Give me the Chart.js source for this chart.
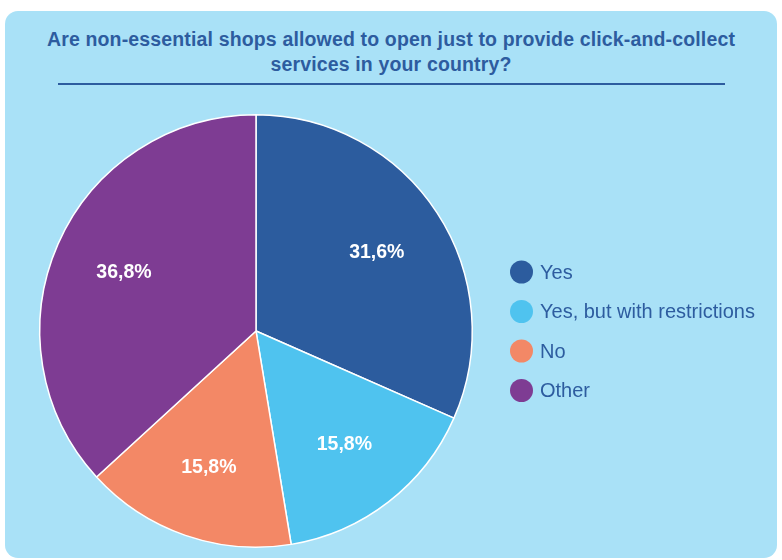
<!DOCTYPE html>
<html>
<head>
<meta charset="utf-8">
<script src="https://cdn.jsdelivr.net/npm/chart.js@4"></script>
<style>
  html, body { margin: 0; padding: 0; background: #ffffff; }
  body { width: 782px; height: 560px; position: relative; overflow: hidden; font-family: "Liberation Sans", Arial, sans-serif; }
  #card { position: absolute; left: 5px; top: 11px; width: 772px; height: 547px; background: #a9e1f7; border-radius: 13px; }
  #title { position: absolute; left: 5px; top: 27px; width: 772px; text-align: center; color: #2d5c9f; font-weight: bold; font-size: 19.5px; letter-spacing: 0.15px; line-height: 25px; }
  #rule { position: absolute; left: 58px; top: 83px; width: 667px; height: 2px; background: #2d5c9f; }
  #wrap { position: absolute; left: 0; top: 0; width: 782px; height: 560px; }
</style>
</head>
<body>
<div id="card"></div>
<div id="title">Are non-essential shops allowed to open just to provide click-and-collect<br>services in your country?</div>
<div id="rule"></div>
<div id="wrap"><canvas id="c" width="782" height="560"></canvas></div>
<script>
const categories = ["Yes", "Yes, but with restrictions", "No", "Other"];
const values = [31.6, 15.8, 15.8, 36.8];
const valueLabels = ["31,6%", "15,8%", "15,8%", "36,8%"];
const colors = ["#2c5c9e", "#4fc3ef", "#f38866", "#7e3c93"];

const labelPlugin = {
  id: "sliceLabels",
  afterDatasetsDraw(chart) {
    const ctx = chart.ctx;
    const meta = chart.getDatasetMeta(0);
    ctx.save();
    ctx.fillStyle = "#ffffff";
    ctx.font = "bold 19.5px 'Liberation Sans', Arial, sans-serif";
    ctx.textAlign = "center";
    ctx.textBaseline = "middle";
    meta.data.forEach((arc, i) => {
      const p = arc.getProps(["x", "y", "startAngle", "endAngle", "outerRadius"], true);
      const mid = (p.startAngle + p.endAngle) / 2;
      const r = p.outerRadius * 0.667;
      ctx.fillText(valueLabels[i], p.x + Math.cos(mid) * r, p.y + Math.sin(mid) * r);
    });
    ctx.restore();
  }
};

const legendPlugin = {
  id: "sideLegend",
  afterDraw(chart) {
    const ctx = chart.ctx;
    ctx.save();
    ctx.font = "20px 'Liberation Sans', Arial, sans-serif";
    ctx.textBaseline = "middle";
    ctx.textAlign = "left";
    categories.forEach((c, i) => {
      const y = 272 + i * 39.5;
      ctx.beginPath();
      ctx.arc(521.5, y, 11.5, 0, Math.PI * 2);
      ctx.fillStyle = colors[i];
      ctx.fill();
      ctx.fillStyle = "#2d5c9f";
      ctx.fillText(c, 540, y + 1);
    });
    ctx.restore();
  }
};

new Chart(document.getElementById("c"), {
  type: "pie",
  data: {
    labels: categories,
    datasets: [{
      data: values,
      backgroundColor: colors,
      borderColor: "#ffffff",
      borderWidth: 1.5
    }]
  },
  options: {
    responsive: false,
    animation: false,
    layout: { padding: { top: 114, bottom: 12, left: 39, right: 309 } },
    plugins: {
      legend: { display: false },
      tooltip: { enabled: false }
    }
  },
  plugins: [labelPlugin, legendPlugin]
});
</script>
</body>
</html>
